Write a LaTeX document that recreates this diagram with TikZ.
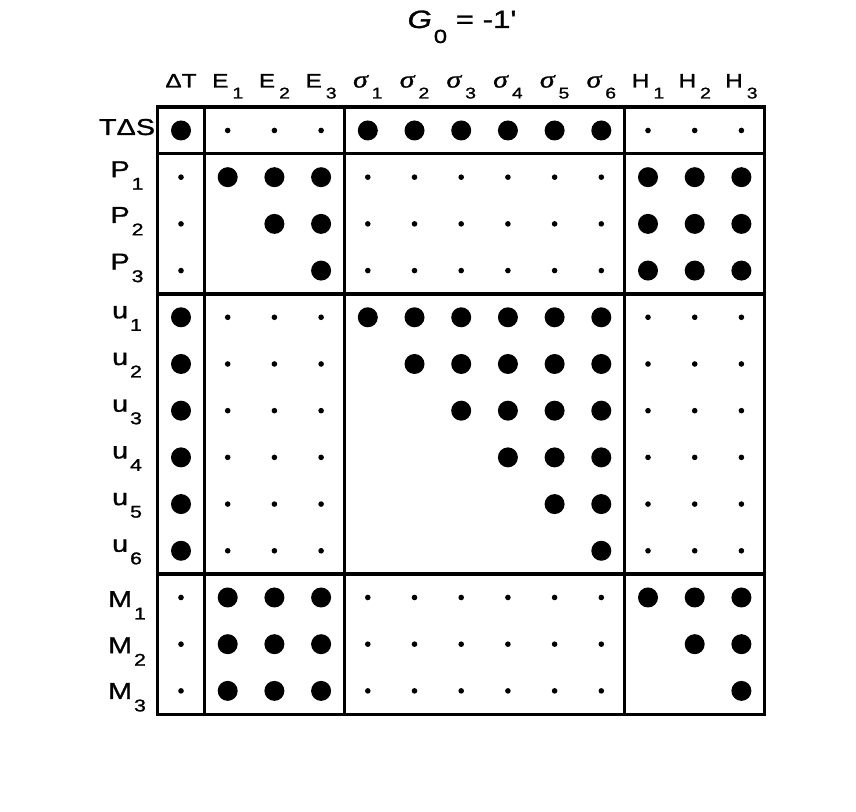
\documentclass[tikz,border=0pt]{standalone}
\usepackage{fontspec}
\setmainfont{Liberation Sans}[FakeStretch=1.25,FakeBold=1.2]
\newfontfamily\plainfont{Liberation Sans}[FakeStretch=1.25,FakeBold=1.2]
\newfontfamily\greekfont{Liberation Serif}[FakeStretch=1.25,FakeBold=1.2]
\newcommand\sigm{{\greekfont\itshape\fontsize{24}{24}\selectfont σ}}
\newcommand\collab[2]{#1\kern4pt\raisebox{-11pt}{\fontsize{15.5}{15.5}\selectfont #2}}
\newcommand\rowlab[2]{#1\kern2pt\raisebox{-12.5pt}{\fontsize{17}{17}\selectfont #2}}

\tikzset{frame/.style={line width=3.3pt},
  dotb/.style={fill=black,radius=10pt},
  dots/.style={fill=black,radius=2.8pt},
  dotn/.style={radius=0.1pt},
  collabel/.style={anchor=base,inner sep=0pt,font=\fontsize{19.5}{19.5}\selectfont},
  rowlabel/.style={anchor=base,inner sep=0pt,font=\fontsize{23}{23}\selectfont}}

\begin{document}
\begin{tikzpicture}[x=46.7pt,y=-46.7pt]
                  \useasboundingbox (-3.876,-2.794) rectangle (14.454,14.593);
                  % title
                  \node[anchor=base,inner sep=0pt,font=\fontsize{25}{25}\plainfont] (title) at (6.017,-2.195)
                    {\itshape G\upshape\kern2pt\raisebox{-15pt}{\fontsize{19}{19}\selectfont 0} = -1'};
                  % column and row labels
                  \foreach \txt [count=\j from 0] in {ΔT,\collab{E}{1},\collab{E}{2},\collab{E}{3},
                      \collab{\sigm}{1},\collab{\sigm}{2},\collab{\sigm}{3},\collab{\sigm}{4},\collab{\sigm}{5},\collab{\sigm}{6},
                      \collab{H}{1},\collab{H}{2},\collab{H}{3}}
                    \node[collabel] (col\j) at (\j,-0.921) {\txt};
                  \foreach \txt/\dy [count=\i from 0] in {TΔS/4.5,\rowlab{P}{1}/0,\rowlab{P}{2}/-1,\rowlab{P}{3}/-1,
                      \rowlab{u}{1}/1,\rowlab{u}{2}/1,\rowlab{u}{3}/1,\rowlab{u}{4}/1,\rowlab{u}{5}/1,\rowlab{u}{6}/1,
                      \rowlab{M}{1}/9.5,\rowlab{M}{2}/9,\rowlab{M}{3}/8}
                    \node[rowlabel] (row\i) at (-1.156,\i+\dy/46.7) {\txt};
                  % frame
                  \draw[frame] (-0.5,-0.5) rectangle (12.5,12.5);
                  \foreach \k in {0.5,3.5,9.5}
                    {\draw[frame] (\k,-0.5) -- (\k,12.5);
                     \draw[frame] (-0.5,\k) -- (12.5,\k);}
                  % dots
                  \foreach \pattern [count=\i from 0] in {{b,s,s,s,b,b,b,b,b,b,s,s,s},
                      {s,b,b,b,s,s,s,s,s,s,b,b,b},{s,n,b,b,s,s,s,s,s,s,b,b,b},{s,n,n,b,s,s,s,s,s,s,b,b,b},
                      {b,s,s,s,b,b,b,b,b,b,s,s,s},{b,s,s,s,n,b,b,b,b,b,s,s,s},{b,s,s,s,n,n,b,b,b,b,s,s,s},
                      {b,s,s,s,n,n,n,b,b,b,s,s,s},{b,s,s,s,n,n,n,n,b,b,s,s,s},{b,s,s,s,n,n,n,n,n,b,s,s,s},
                      {s,b,b,b,s,s,s,s,s,s,b,b,b},{s,b,b,b,s,s,s,s,s,s,n,b,b},{s,b,b,b,s,s,s,s,s,s,n,n,b}}
                    \foreach \d [count=\j from 0] in \pattern
                      \path[dot\d] (\j,\i) circle;
              \end{tikzpicture}
\end{document}
